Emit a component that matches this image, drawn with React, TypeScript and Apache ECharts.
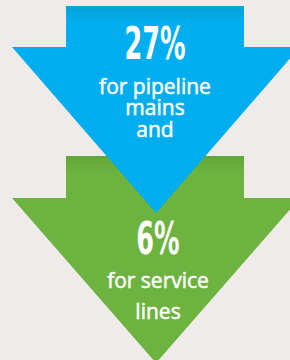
import React, { useEffect, useRef } from "react";
import * as echarts from "echarts";

const values = ["27%", "6%"];
const captions = [
  ["for pipeline", "mains", "and"],
  ["for service", "lines"],
];
const colors = ["#00aeef", "#6db33f"];
const shadeColors = ["#0aa2d8", "#62a63a"];

// layout (pixel space of the hidden axes)
const layout = [
  { top: 6, shoulder: 47, tip: 213, cx: 156, textCx: 155, numY: 43, capY: 107, lh: 21.5 },
  { top: 156, shoulder: 198, tip: 363, cx: 156, textCx: 158, numY: 238, capY: 295, lh: 31 },
];
const SHAFT_L = 66;
const SHAFT_R = 244;
const HEAD_L = 12;
const HEAD_R = 300;

export default function App() {
  const ref = useRef<HTMLDivElement>(null);
  useEffect(() => {
    if (!ref.current) return;
    const chart = echarts.init(ref.current, null, { renderer: "svg" });
    chart.setOption({
      animation: false,
      backgroundColor: "#efebe8",
      grid: { left: 0, right: 0, top: 0, bottom: 0 },
      xAxis: { type: "value", min: 0, max: 290, show: false },
      yAxis: { type: "value", min: 0, max: 360, inverse: true, show: false },
      series: [
        {
          type: "custom",
          clip: true,
          data: values.map((v, i) => [i, v]),
          renderItem: (params: any, api: any) => {
            const i = params.dataIndex;
            const L = layout[i];
            const p = (x: number, y: number) => api.coord([x, y]);
            const pts = [
              p(SHAFT_L, L.top),
              p(SHAFT_R, L.top),
              p(SHAFT_R, L.shoulder),
              p(HEAD_R, L.shoulder),
              p(L.cx, L.tip),
              p(HEAD_L, L.shoulder),
              p(SHAFT_L, L.shoulder),
            ];
            const zBase = i === 0 ? 10 : 0;
            const children: any[] = [
              {
                type: "polygon",
                z2: zBase,
                shape: { points: pts },
                style: {
                  fill: {
                    type: "linear",
                    x: 0,
                    y: 0,
                    x2: 0,
                    y2: 1,
                    colorStops: [
                      { offset: 0, color: shadeColors[i] },
                      { offset: 0.08, color: colors[i] },
                      { offset: 1, color: colors[i] },
                    ],
                  },
                },
              },
            ];
            const c = p(L.textCx, L.numY);
            children.push({
              type: "text",
              z2: zBase + 5,
              x: c[0],
              y: c[1],
              scaleX: 0.63,
              style: {
                text: values[i],
                fill: "#ffffff",
                font: "bold 45px 'Liberation Sans Narrow', 'DejaVu Sans Condensed', sans-serif",
                align: "center",
                verticalAlign: "middle",
              },
            });
            const q = p(L.textCx, L.capY);
            children.push({
              type: "text",
              z2: zBase + 5,
              x: q[0],
              y: q[1],
              style: {
                text: captions[i].join("\n"),
                fill: "#ffffff",
                stroke: "#ffffff",
                lineWidth: 0.5,
                font: "21px 'Open Sans', Lato, sans-serif",
                lineHeight: L.lh,
                align: "center",
                verticalAlign: "middle",
              },
            });
            return { type: "group", children };
          },
        },
      ],
    });
    return () => chart.dispose();
  }, []);
  return (
    <div
      ref={ref}
      style={{ position: "fixed", left: 0, top: 0, width: 290, height: 360 }}
    />
  );
}
